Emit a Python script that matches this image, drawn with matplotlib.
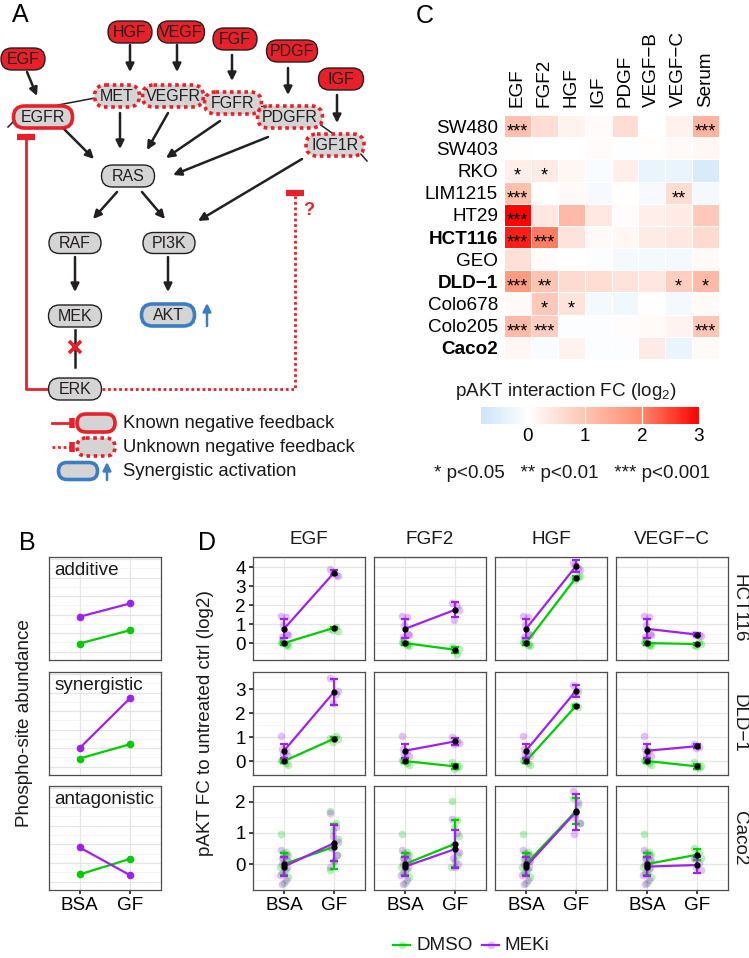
import numpy as np
import matplotlib
matplotlib.use("Agg")
import matplotlib.pyplot as plt
from matplotlib.patches import FancyBboxPatch
from matplotlib.colors import LinearSegmentedColormap, Normalize

plt.rcParams['font.family'] = ['Liberation Sans', 'DejaVu Sans']
plt.rcParams['mathtext.fontset'] = 'custom'
plt.rcParams['mathtext.rm'] = 'Liberation Sans'
plt.rcParams['text.color'] = '#1a1a1a'

# ---------------- data ----------------
# panel C heatmap
HEAT_ROWS = ['SW480', 'SW403', 'RKO', 'LIM1215', 'HT29', 'HCT116', 'GEO',
             'DLD\u22121', 'Colo678', 'Colo205', 'Caco2']
HEAT_BOLD = ['HCT116', 'DLD\u22121', 'Caco2']
HEAT_COLS = ['EGF', 'FGF2', 'HGF', 'IGF', 'PDGF', 'VEGF\u2212B', 'VEGF\u2212C', 'Serum']
HEAT_VALUES = [
    [1.10, 0.60, 0.20, 0.08, 0.60, 0.00, 0.25, 1.30],
    [0.03, 0.00, 0.00, 0.08, -0.03, 0.02, 0.10, 0.15],
    [0.30, 0.35, 0.15, -0.10, 0.30, -0.35, -0.35, -0.65],
    [1.10, 0.00, 0.12, -0.15, 0.02, -0.15, 0.60, -0.20],
    [3.00, 0.40, 1.20, 0.40, 0.05, 0.30, 0.35, 0.95],
    [2.80, 2.10, 0.50, 0.10, 0.15, 0.35, 0.40, 0.65],
    [0.55, 0.05, 0.00, -0.05, -0.20, -0.20, -0.20, 0.10],
    [1.70, 1.05, 0.65, 0.60, 0.50, 0.45, 0.85, 1.20],
    [0.10, 0.95, 0.50, -0.20, -0.25, 0.00, -0.20, 0.10],
    [1.20, 0.85, -0.05, -0.05, 0.05, 0.10, 0.20, 1.00],
    [0.15, -0.10, 0.20, -0.05, -0.05, 0.35, -0.35, 0.10],
]
HEAT_STARS = [
    ['***', '', '', '', '', '', '', '***'],
    ['', '', '', '', '', '', '', ''],
    ['*', '*', '', '', '', '', '', ''],
    ['***', '', '', '', '', '', '**', ''],
    ['***', '', '', '', '', '', '', ''],
    ['***', '***', '', '', '', '', '', ''],
    ['', '', '', '', '', '', '', ''],
    ['***', '**', '', '', '', '', '*', '*'],
    ['', '*', '*', '', '', '', '', ''],
    ['***', '***', '', '', '', '', '', '***'],
    ['', '', '', '', '', '', '', ''],
]
CBAR_RANGE = [-0.82, 3.02]
CBAR_TICKS = [0, 1, 2, 3]

# panel B schematic
B_TYPES = ['additive', 'synergistic', 'antagonistic']
B_GREEN = [[0.16, 0.29], [0.16, 0.30], [0.15, 0.30]]
B_PURPLE = [[0.42, 0.55], [0.26, 0.75], [0.41, 0.14]]

# panel D
D_ROWS = ['HCT116', 'DLD\u22121', 'Caco2']
D_COLS = ['EGF', 'FGF2', 'HGF', 'VEGF\u2212C']
D_XLABELS = ['BSA', 'GF']
D_YLIMS = [(-0.89, 4.53), (-0.58, 3.71), (-0.83, 2.37)]
D_YTICKS = [[0, 1, 2, 3, 4], [0, 1, 2, 3], [0, 1, 2]]
# BSA controls shared by all growth factors of a cell line
DMSO_BSA_MEAN = [0.0, 0.0, 0.0]
DMSO_BSA_ERR = [0.08, 0.08, 0.35]
MEKI_BSA_MEAN = [0.75, 0.43, -0.08]
MEKI_BSA_ERR = [0.5, 0.3, 0.3]
DMSO_BSA_PTS = [[0.05, -0.1, 0.1, -0.15, 0.0, -0.05],
                [0.05, -0.1, 0.1, -0.15, 0.0],
                [0.97, 0.4, 0.35, 0.3, 0.2, 0.1, 0.0, -0.1, -0.2, -0.3, -0.4, -0.6]]
MEKI_BSA_PTS = [[1.4, 1.35, 0.95, 0.4, 0.3, 0.5],
                [1.05, 0.4, 0.3, 0.2, 0.5],
                [0.45, 0.3, 0.2, 0.1, 0.0, -0.1, -0.2, -0.35, -0.5, -0.65]]
# growth factor stimulated
DMSO_GF_MEAN = [[0.8, -0.35, 3.45, -0.05],
                [0.93, -0.22, 2.3, -0.22],
                [0.55, 0.65, 1.7, 0.3]]
DMSO_GF_ERR = [[0.06, 0.15, 0.06, 0.06],
               [0.07, 0.1, 0.05, 0.1],
               [0.72, 0.75, 0.42, 0.18]]
MEKI_GF_MEAN = [[3.7, 1.75, 4.05, 0.45],
                [2.88, 0.82, 2.93, 0.62],
                [0.67, 0.48, 1.67, -0.03]]
MEKI_GF_ERR = [[0.12, 0.4, 0.3, 0.08],
               [0.55, 0.15, 0.25, 0.08],
               [0.57, 0.62, 0.58, 0.27]]
DMSO_GF_PTS = [
    [[0.75, 0.85, 0.7, 0.65], [-0.2, -0.55, -0.35, -0.3], [3.4, 3.5, 3.3, 3.55], [-0.1, 0.05, -0.15, -0.05]],
    [[0.95, 1.05, 0.8, 0.9], [-0.05, -0.25, -0.35, -0.2], [2.3, 2.25, 2.35], [-0.05, -0.3, -0.25, -0.2]],
    [[1.7, 1.3, 1.1, 0.8, 0.55, 0.3, 0.1, -0.2], [2.02, 1.4, 1.2, 0.9, 0.6, 0.3, 0.1, -0.1],
     [2.1, 1.9, 1.6, 1.3], [0.5, 0.4, 0.3, 0.2, 0.15]],
]
MEKI_GF_PTS = [
    [[3.9, 3.6, 3.75, 3.55], [2.1, 1.95, 1.2, 1.75], [4.2, 3.95, 4.1, 3.85], [0.5, 0.4, 0.45, 0.38]],
    [[3.45, 2.8, 2.4, 2.9], [1.0, 0.85, 0.7, 0.75], [3.15, 2.9, 2.8], [0.7, 0.6, 0.55]],
    [[1.62, 1.2, 0.9, 0.7, 0.5, 0.3, 0.1, -0.1], [1.45, 1.0, 0.6, 0.4, 0.2, 0.0, -0.1],
     [2.35, 2.0, 1.5, 1.3, 0.95], [0.2, 0.05, -0.1, -0.2]],
]

# ---------------- style ----------------
W, H = 749, 958
GREEN = '#00cd00'
PURPLE = '#a020f0'
RED = '#e8202a'
GREY = '#d4d4d4'
BLUE = '#3b7dc4'
DARK = '#231f20'
FS = 13.6      # ggplot text
FS_A = 13.3    # legend text of the diagram
JITTER = [-0.07, 0.04, -0.02, 0.08, -0.05, 0.06, 0.0, -0.08, 0.03, -0.04, 0.07, -0.01]

fig = plt.figure(figsize=(W / 100, H / 100), dpi=100)


def px_axes(x0, y0, x1, y1):
    return fig.add_axes([x0 / W, 1 - y1 / H, (x1 - x0) / W, (y1 - y0) / H])


ov = px_axes(0, 0, W, H)
ov.set_xlim(0, W)
ov.set_ylim(H, 0)
ov.axis('off')

for lab, x, y in [('A', 20, 15), ('B', 27, 543), ('C', 425, 16), ('D', 207, 543)]:
    ov.text(x, y, lab, fontsize=18, ha='center', va='center', color='black')

# ---------------- panel A diagram ----------------
def node(label, cx, cy, w, h, kind, fs=11.5):
    styles = {
        'lig': dict(fc=RED, ec=DARK, lw=1.0, ls='-'),
        'unk': dict(fc=GREY, ec=RED, lw=2.6, ls=(0, (1, 1))),
        'known': dict(fc=GREY, ec=RED, lw=2.6, ls='-'),
        'plain': dict(fc=GREY, ec=DARK, lw=1.0, ls='-'),
        'syn': dict(fc=GREY, ec=BLUE, lw=2.6, ls='-'),
    }
    s = styles[kind]
    p = FancyBboxPatch((cx - w / 2, cy - h / 2), w, h,
                       boxstyle='round,pad=0,rounding_size=%g' % (h / 2),
                       fc=s['fc'], ec=s['ec'], lw=s['lw'], ls=s['ls'], zorder=3)
    ov.add_patch(p)
    if label:
        ov.text(cx, cy + 0.5, label, fontsize=fs, ha='center', va='center', color=DARK, zorder=4)


def arrow(x0, y0, x1, y1, color=DARK):
    ov.annotate('', xy=(x1, y1), xytext=(x0, y0),
                arrowprops=dict(arrowstyle='-|>', color=color, lw=1.8, mutation_scale=12,
                                shrinkA=0, shrinkB=0), zorder=2)


# membrane lines
for (x0, y0, x1, y1) in [(95, 98, 58, 105), (8, 127, 15, 120), (260, 106, 270, 109),
                         (318, 123, 332, 133), (359, 152, 367, 161)]:
    ov.plot([x0, x1], [y0, y1], color=DARK, lw=1.1, zorder=2)

nodes = [
    ('EGF', 23, 59, 44, 22, 'lig'), ('HGF', 130, 32, 44, 22, 'lig'),
    ('VEGF', 181, 32, 47, 22, 'lig'), ('FGF', 235, 39, 44, 22, 'lig'),
    ('PDGF', 292, 51, 51, 22, 'lig'), ('IGF', 341, 79, 45, 22, 'lig'),
    ('MET', 117, 96, 45, 22, 'unk'), ('VEGFR', 173, 96, 61, 22, 'unk'),
    ('FGFR', 233, 103, 57, 22, 'unk'), ('PDGFR', 290, 117, 65, 22, 'unk'),
    ('IGF1R', 335, 145, 58, 22, 'unk'), ('EGFR', 43, 117, 59, 22, 'known'),
    ('RAS', 128, 176, 53, 22, 'plain'), ('RAF', 75, 243, 52, 21, 'plain'),
    ('PI3K', 169, 243, 52, 21, 'plain'), ('MEK', 75, 316, 53, 22, 'plain'),
    ('AKT', 168, 315, 53, 22, 'syn'), ('ERK', 75, 389, 53, 22, 'plain'),
]
for n in nodes:
    node(*n)

for a in [(27, 72, 37, 96), (130, 45, 130, 72), (177, 45, 177, 72), (232, 55, 232, 81),
          (288, 68, 288, 95), (337, 95, 337, 123), (63, 128, 94, 159), (120, 113, 120, 149),
          (168, 113, 147, 150), (220, 121, 166, 158), (268, 137, 173, 175),
          (302, 159, 198, 221), (117, 192, 93, 219), (142, 192, 165, 219),
          (75, 257, 75, 292), (168, 257, 168, 292)]:
    arrow(*a)

# MEK -| ERK
ov.plot([75, 75], [330, 367], color=DARK, lw=1.8, zorder=2)
ov.plot([75], [347], marker='x', ms=9, mew=2.6, color=RED, zorder=3)
# AKT up arrow
arrow(207, 326, 207, 303, color=BLUE)

# feedback loops
ov.plot([49, 26, 26], [389, 389, 138], color=RED, lw=2.0, zorder=1)
ov.plot([17, 35], [137, 137], color=RED, lw=4.5, solid_capstyle='butt')
ov.plot([102, 295, 295], [389, 389, 195], color=RED, lw=2.0, ls=(0, (1, 1)), zorder=1)
ov.plot([286, 304], [193, 193], color=RED, lw=4.5, solid_capstyle='butt')
ov.text(309, 210, '?', color=RED, fontsize=13, fontweight='bold', ha='center', va='center')

# legend of panel A
for y, kind, ls, txt in [(423, 'known', '-', 'Known negative feedback'),
                         (447, 'unk', (0, (1, 1)), 'Unknown negative feedback')]:
    ov.plot([52, 70], [y, y], color=RED, lw=2.0, ls=ls)
    ov.plot([72, 72], [y - 5, y + 5], color=RED, lw=4, solid_capstyle='butt')
    node('', 96, y, 38, 18, kind)
    ov.text(123, y, txt, fontsize=FS_A, va='center')
node('', 78, 471, 39, 17, 'syn')
arrow(107, 480, 107, 462, color=BLUE)
ov.text(123, 471, 'Synergistic activation', fontsize=FS_A, va='center')

# ---------------- panel C heatmap ----------------
stops = [-0.82, 0, 1, 2, 3.02]
stop_cols = ['#cfe5f8', '#ffffff', '#ffc6b5', '#ff8a6c', '#ff0000']
cmap = LinearSegmentedColormap.from_list(
    'fc', [((v - stops[0]) / (stops[-1] - stops[0]), c) for v, c in zip(stops, stop_cols)])
norm = Normalize(CBAR_RANGE[0], CBAR_RANGE[1])

hx = px_axes(504, 115, 719, 359)
hx.pcolormesh(np.array(HEAT_VALUES), cmap=cmap, norm=norm, edgecolors='white', linewidth=0.6)
hx.set_xlim(0, len(HEAT_COLS))
hx.set_ylim(len(HEAT_ROWS), 0)
hx.xaxis.tick_top()
hx.set_xticks(np.arange(len(HEAT_COLS)) + 0.5)
hx.set_xticklabels(HEAT_COLS, rotation=90, fontsize=FS)
hx.set_yticks(np.arange(len(HEAT_ROWS)) + 0.5)
hx.set_yticklabels(HEAT_ROWS, fontsize=FS)
for t in hx.get_yticklabels():
    if t.get_text() in HEAT_BOLD:
        t.set_fontweight('bold')
hx.tick_params(axis='both', length=0)
hx.tick_params(axis='x', pad=5.5)
hx.tick_params(axis='y', pad=4.3)
for s in hx.spines.values():
    s.set_visible(False)
for i, row in enumerate(HEAT_STARS):
    for j, st in enumerate(row):
        if st:
            hx.text(j + 0.5, i + 0.97, st, ha='center', va='baseline', fontsize=13, color='black')

# colorbar
cb = px_axes(481, 407, 700, 424)
grad = np.linspace(CBAR_RANGE[0], CBAR_RANGE[1], 300)
cb.imshow(grad[None, :], extent=(CBAR_RANGE[0], CBAR_RANGE[1], 0, 1), aspect='auto',
          cmap=cmap, norm=norm)
for t in CBAR_TICKS:
    cb.axvline(t, color='white', lw=0.8)
cb.set_xlim(CBAR_RANGE)
cb.set_yticks([])
cb.set_xticks(CBAR_TICKS)
cb.set_xticklabels([str(t) for t in CBAR_TICKS], fontsize=FS)
cb.tick_params(axis='x', length=0, pad=3)
for s in cb.spines.values():
    s.set_visible(False)
ov.text(566, 391, 'pAKT interaction FC (log$_{2}$)', fontsize=FS, ha='center', va='center')
ov.text(572, 473, '* p<0.05   ** p<0.01   *** p<0.001', fontsize=FS, ha='center', va='center')


# ---------------- panels B and D ----------------
def panel_style(ax):
    ax.set_facecolor('white')
    for s in ax.spines.values():
        s.set_color('#4d4d4d')
        s.set_linewidth(0.9)
    ax.grid(which='major', color='#e5e5e5', lw=0.9)
    ax.grid(which='minor', color='#f2f2f2', lw=0.6)
    ax.set_axisbelow(True)
    ax.tick_params(which='minor', length=0)
    ax.tick_params(which='major', color='#333333', width=1.3, length=3,
                   labelsize=FS, pad=2)


ROW_Y = [(557, 660), (672, 775), (786, 890)]

# panel B
for r, name in enumerate(B_TYPES):
    ax = px_axes(49, ROW_Y[r][0], 161, ROW_Y[r][1])
    panel_style(ax)
    ax.set_xlim(0.4, 2.6)
    ax.set_ylim(0, 1)
    ax.set_xticks([1, 2])
    ax.set_yticks([0.08, 0.26, 0.44, 0.62, 0.80, 0.98])
    ax.set_yticks([0.17, 0.35, 0.53, 0.71, 0.89], minor=True)
    ax.set_yticklabels([])
    ax.tick_params(axis='y', length=0)
    if r < 2:
        ax.set_xticklabels([])
        ax.tick_params(axis='x', length=0)
    else:
        ax.set_xticklabels(D_XLABELS)
    ax.plot([1, 2], B_GREEN[r], color=GREEN, lw=1.6, marker='o', ms=4.5)
    ax.plot([1, 2], B_PURPLE[r], color=PURPLE, lw=1.6, marker='o', ms=4.5)
    ax.text(0.05, 0.95, name, transform=ax.transAxes, fontsize=FS, va='top', ha='left')
ov.text(25, 723, 'Phospho-site abundance', rotation=90, fontsize=FS, ha='center', va='center')

# panel D
COL_X = [253, 374, 495, 616]
PW = 112


def jit(vals, x0):
    return [x0 + JITTER[k % len(JITTER)] for k in range(len(vals))]


for r in range(3):
    for c in range(4):
        ax = px_axes(COL_X[c], ROW_Y[r][0], COL_X[c] + PW, ROW_Y[r][1])
        panel_style(ax)
        ax.set_xlim(0.38, 2.62)
        ax.set_ylim(*D_YLIMS[r])
        ax.set_xticks([1, 2])
        ax.set_yticks(D_YTICKS[r])
        ax.set_yticks([t + 0.5 for t in [-1] + D_YTICKS[r]], minor=True)
        if c == 0:
            ax.set_yticklabels([str(t) for t in D_YTICKS[r]])
        else:
            ax.set_yticklabels([])
            ax.tick_params(axis='y', length=0)
        if r == 2:
            ax.set_xticklabels(D_XLABELS)
        else:
            ax.set_xticklabels([])
            ax.tick_params(axis='x', length=0)
        groups = [
            (GREEN, DMSO_BSA_PTS[r], DMSO_GF_PTS[r][c], DMSO_BSA_MEAN[r], DMSO_GF_MEAN[r][c],
             DMSO_BSA_ERR[r], DMSO_GF_ERR[r][c]),
            (PURPLE, MEKI_BSA_PTS[r], MEKI_GF_PTS[r][c], MEKI_BSA_MEAN[r], MEKI_GF_MEAN[r][c],
             MEKI_BSA_ERR[r], MEKI_GF_ERR[r][c]),
        ]
        for col, pb, pg, mb, mg, eb, eg in groups:
            ax.plot(jit(pb, 1), pb, 'o', color=col, alpha=0.28, ms=5.5, mew=0, zorder=2)
            ax.plot(jit(pg, 2), pg, 'o', color=col, alpha=0.28, ms=5.5, mew=0, zorder=2)
        for col, pb, pg, mb, mg, eb, eg in groups:
            ax.plot([1, 2], [mb, mg], color=col, lw=1.6, zorder=3)
            ax.errorbar([1, 2], [mb, mg], yerr=[eb, eg], fmt='none', ecolor=col,
                        elinewidth=1.6, capsize=2.6, capthick=1.6, zorder=4)
        for col, pb, pg, mb, mg, eb, eg in groups:
            ax.plot([1, 2], [mb, mg], 'o', color='black', ms=3.5, zorder=5)
        if r == 0:
            ov.text(COL_X[c] + PW / 2, 540, D_COLS[c], fontsize=FS, ha='center', va='center')
    ov.text(739, (ROW_Y[r][0] + ROW_Y[r][1]) / 2, D_ROWS[r], rotation=270, fontsize=FS,
            ha='center', va='center')
ov.text(206, 723, 'pAKT FC to untreated ctrl (log2)', rotation=90, fontsize=FS,
        ha='center', va='center')

# legend of panel D
for x0, col, lab in [(393, GREEN, 'DMSO'), (482, PURPLE, 'MEKi')]:
    ov.plot([x0, x0 + 17], [945, 945], color=col, lw=1.6)
    ov.plot([x0 + 8.5], [945], 'o', color=col, alpha=0.28, ms=5.5, mew=0)
    ov.text(x0 + 23, 945, lab, fontsize=FS, va='center')

fig.savefig('out.png', dpi=100)
